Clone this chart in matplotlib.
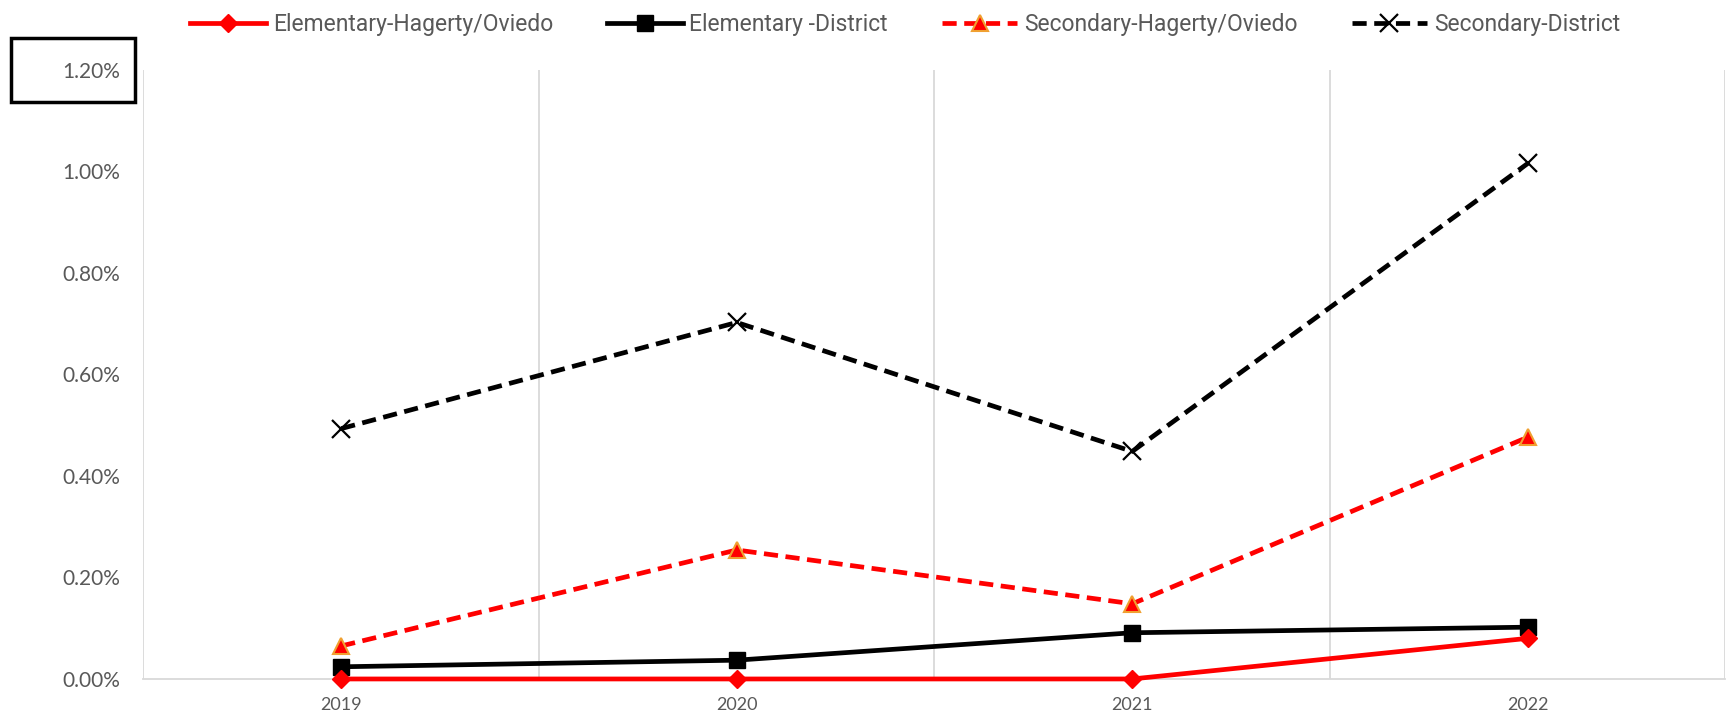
import matplotlib.pyplot as plt
from matplotlib.patches import Rectangle
from matplotlib.ticker import PercentFormatter

# Данные
years = ['2019', '2020', '2021', '2022']
elem_ho = [0.000, 0.000, 0.000, 0.080]
elem_district = [0.024, 0.037, 0.091, 0.102]
sec_ho = [0.065, 0.254, 0.148, 0.476]
sec_district = [0.493, 0.702, 0.448, 1.015]

grey = '#595959'
x = range(len(years))

fig = plt.figure(figsize=(17.31, 7.22), dpi=100)
ax = fig.add_axes([0.0829, 0.0596, 0.9139, 0.8441])

ax.plot(x, sec_district, color='black', lw=3.4, ls=(0, (3, 1.6)), marker='x',
        ms=13, mew=1.6, label='Secondary-District', zorder=3, clip_on=False)
ax.plot(x, sec_ho, color='red', lw=3.4, ls=(0, (3, 1.6)), marker='^',
        ms=12, mfc='red', mec='#f0a030', mew=1.5,
        label='Secondary-Hagerty/Oviedo', zorder=3, clip_on=False)
ax.plot(x, elem_district, color='black', lw=3.4, marker='s', ms=12,
        label='Elementary -District', zorder=4, clip_on=False)
ax.plot(x, elem_ho, color='red', lw=3.4, marker='D', ms=9,
        label='Elementary-Hagerty/Oviedo', zorder=5, clip_on=False)

ax.set_xlim(-0.5, 3.5)
ax.set_ylim(0, 1.2)
ax.set_xticks(list(x))
ax.set_xticklabels(years)
ax.set_xticks([-0.5, 0.5, 1.5, 2.5, 3.5], minor=True)
ax.grid(True, which='minor', axis='x', color='#d9d9d9', lw=1.3)
ax.set_yticks([0, 0.2, 0.4, 0.6, 0.8, 1.0, 1.2])
ax.yaxis.set_major_formatter(PercentFormatter(decimals=2))
ax.tick_params(axis='both', which='both', length=0)
ax.tick_params(axis='y', labelsize=15, labelcolor=grey, pad=17)
ax.tick_params(axis='x', labelsize=13, labelcolor=grey, pad=13)
for lab in ax.get_xticklabels():
    lab.set_fontfamily(['Lato', 'DejaVu Sans'])
for lab in ax.get_yticklabels():
    lab.set_fontfamily(['Lato', 'DejaVu Sans'])

for s in ['top', 'right', 'left']:
    ax.spines[s].set_visible(False)
ax.spines['bottom'].set_color('#d9d9d9')
ax.spines['bottom'].set_linewidth(1.3)

# Рамка вокруг 1.20%
fig.patches.append(Rectangle((11 / 1731, 1 - 102 / 722), 124 / 1731, 64 / 722,
                             transform=fig.transFigure, fill=False,
                             edgecolor='black', lw=2.5))

handles, labels = ax.get_legend_handles_labels()
order = [3, 2, 1, 0]
leg = fig.legend([handles[i] for i in order], [labels[i] for i in order],
                 loc='upper center', bbox_to_anchor=(0.523, 1.01), ncol=4,
                 frameon=False, handlelength=3.3,
                 columnspacing=2.35, handletextpad=0.3,
                 prop={'family': ['Roboto', 'DejaVu Sans'], 'size': 16.5})
for t in leg.get_texts():
    t.set_color(grey)

fig.savefig('out.png', dpi=100)
